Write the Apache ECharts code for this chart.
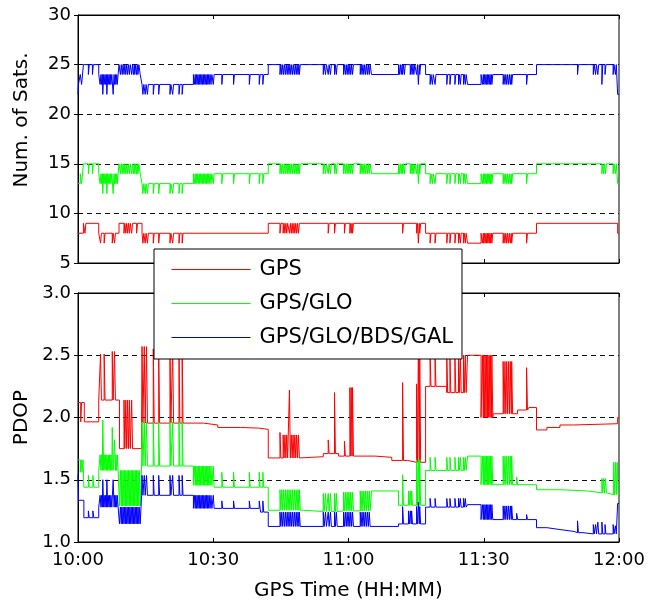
<!DOCTYPE html>
<html>
<head>
<meta charset="utf-8">
<script src="https://cdn.jsdelivr.net/npm/echarts@6/dist/echarts.min.js"></script>
<style>
  html, body { margin: 0; padding: 0; background: #fff; }
  #chart { width: 649px; height: 602px; }
</style>
</head>
<body>
<div id="chart"></div>
<script>
// Time axis: minutes after 10:00 GPS time
const timeTicks = ['10:00', '10:30', '11:00', '11:30', '12:00'];
const systems = ['GPS', 'GPS/GLO', 'GPS/GLO/BDS/GAL'];

// ---- Number of satellites ----
// step levels: [minute, count]
const gpsSatLevels = [
  [0, 8], [1.2, 9], [4.6, 8], [9.1, 9], [14.2, 8], [42.2, 9], [77.1, 8], [86.4, 7], [89.4, 8], [101.7, 9], [119.7, 8]
];
// short-lived changes: [minute, count]
const gpsSatBlips = [
  [1.55, 8],
  [5.0, 7], [5.8, 7], [7.6, 7], [8.1, 7],
  [10.2, 8], [10.6, 8], [11.0, 8], [11.4, 8], [11.9, 8], [13.0, 8],
  [14.4, 7], [14.9, 7], [15.4, 7], [16.7, 7], [17.9, 7], [20.4, 7], [21.0, 7], [22.4, 7], [23.1, 7],
  [44.8, 8], [45.5, 8], [45.9, 8], [46.3, 8], [46.9, 8], [47.3, 8], [47.7, 8], [48.1, 8], [48.5, 8], [48.9, 8],
  [55.5, 8], [56.9, 8], [59.1, 8], [60.3, 8], [60.6, 8], [60.9, 8],
  [72.0, 8], [75.1, 8], [75.5, 7], [75.8, 8],
  [78.1, 7], [79.2, 7], [81.8, 7], [82.5, 7], [83.6, 7], [84.4, 7], [84.8, 7], [85.5, 7], [85.9, 7],
  [89.7, 7], [90.0, 7], [90.3, 7], [90.6, 7], [90.9, 7], [91.2, 7], [91.5, 7], [91.8, 7],
  [94.3, 7], [94.7, 7], [95.1, 7], [95.5, 7], [95.9, 7], [96.2, 7], [99.5, 7]
];

const gloSatLevels = [
  [0, 13], [0.5, 14], [0.8, 13], [1.2, 15], [4.6, 14], [9.1, 15], [13.8, 14], [14.2, 13], [25.6, 14],
  [42.2, 15], [65.1, 14], [71.1, 15], [77.1, 14], [86.4, 13], [89.4, 14], [101.7, 15], [119.7, 13]
];
const gloSatBlips = [
  [2.3, 14], [3.2, 14],
  [4.9, 13], [5.2, 13], [5.5, 12], [5.8, 13], [6.1, 13], [6.4, 12], [6.7, 13], [7.0, 13], [7.3, 13], [7.8, 12], [8.1, 13], [8.4, 13], [8.7, 13],
  [9.4, 14], [9.8, 14], [10.2, 14], [10.6, 14], [11.0, 14], [11.4, 14], [11.9, 14], [12.3, 14], [12.6, 14], [13.0, 14], [13.3, 14],
  [14.4, 12], [14.9, 12], [15.4, 12], [16.7, 12], [17.9, 12], [20.4, 12], [21.0, 12], [22.4, 12], [23.1, 12],
  [25.8, 13], [26.1, 13], [26.4, 13], [26.7, 13], [27.0, 13], [27.3, 13], [27.6, 13], [27.9, 13], [28.2, 13], [28.5, 13], [28.8, 13], [29.1, 13], [29.5, 13], [30.0, 13],
  [31.9, 13], [34.5, 13], [38.0, 13], [40.2, 13], [41.0, 13],
  [44.8, 14], [45.2, 14], [45.6, 14], [46.0, 14], [46.4, 14], [46.8, 14], [47.2, 14], [47.6, 14], [48.0, 14], [48.4, 14], [48.8, 14], [49.1, 14],
  [54.4, 14], [54.9, 14], [55.5, 14], [56.0, 14], [56.9, 14], [57.3, 14],
  [58.9, 14], [59.3, 14], [59.7, 14], [60.1, 14], [60.5, 14], [60.9, 14],
  [62.6, 14], [63.0, 14], [63.4, 14], [63.8, 14], [64.2, 14], [64.6, 14],
  [71.3, 14], [71.7, 14], [72.0, 14], [72.4, 14], [73.7, 14], [74.1, 14], [74.5, 14], [75.1, 14], [75.5, 13], [75.8, 14],
  [78.1, 13], [78.6, 13], [79.2, 13], [81.8, 13], [82.5, 13], [83.6, 13], [84.4, 13], [84.8, 13], [85.5, 13], [85.9, 13],
  [89.7, 13], [90.0, 13], [90.3, 13], [90.6, 13], [90.9, 13], [91.2, 13], [91.5, 13], [91.8, 13],
  [94.3, 13], [94.7, 13], [95.1, 13], [95.5, 13], [95.9, 13], [96.2, 13], [99.5, 13],
  [116.2, 14], [116.6, 14], [117.0, 14], [118.7, 14], [119.2, 14]
];

const allSatLevels = [
  [0, 22], [0.1, 23], [0.5, 24], [0.8, 23], [1.2, 25], [4.6, 24], [9.1, 25], [13.8, 24], [14.2, 23], [25.6, 24],
  [42.2, 25], [65.1, 24], [71.1, 25], [77.1, 24], [86.4, 23], [89.4, 24], [101.7, 25], [119.7, 22]
];
const allSatBlips = [
  [2.3, 24], [3.2, 24],
  [4.9, 23], [5.2, 23], [5.5, 22], [5.8, 23], [6.1, 23], [6.4, 22], [6.7, 23], [7.0, 23], [7.3, 23], [7.8, 22], [8.1, 23], [8.4, 23], [8.7, 23],
  [9.4, 24], [9.8, 24], [10.2, 24], [10.6, 24], [11.0, 24], [11.4, 24], [11.9, 24], [12.3, 24], [12.6, 24], [13.0, 24], [13.3, 24],
  [14.4, 22], [14.9, 22], [15.4, 22], [16.7, 22], [17.9, 22], [20.4, 22], [21.0, 22], [22.4, 22], [23.1, 22],
  [25.8, 23], [26.1, 23], [26.4, 23], [26.7, 23], [27.0, 23], [27.3, 23], [27.6, 23], [27.9, 23], [28.2, 23], [28.5, 23], [28.8, 23], [29.1, 23], [29.5, 23], [30.0, 23],
  [31.9, 23], [34.5, 23], [38.0, 23], [40.2, 23], [41.0, 23],
  [44.8, 24], [45.2, 24], [45.6, 24], [46.0, 24], [46.4, 24], [46.8, 24], [47.2, 24], [47.6, 24], [48.0, 24], [48.4, 24], [48.8, 24], [49.1, 24],
  [54.4, 24], [54.9, 24], [55.5, 24], [56.0, 24], [56.9, 24], [57.3, 24],
  [58.9, 24], [59.3, 24], [59.7, 24], [60.1, 24], [60.5, 24], [60.9, 24],
  [62.6, 24], [63.0, 24], [63.4, 24], [63.8, 24], [64.2, 24], [64.6, 24],
  [71.3, 24], [71.7, 24], [72.0, 24], [72.4, 24], [73.7, 24], [74.1, 24], [74.5, 24], [75.1, 24], [75.5, 23], [75.8, 24],
  [78.1, 23], [78.6, 23], [79.2, 23], [81.8, 23], [82.5, 23], [83.6, 23], [84.4, 23], [84.8, 23], [85.5, 23], [85.9, 23],
  [89.7, 23], [90.0, 23], [90.3, 23], [90.6, 23], [90.9, 23], [91.2, 23], [91.5, 23], [91.8, 23],
  [94.3, 23], [94.7, 23], [95.1, 23], [95.5, 23], [95.9, 23], [96.2, 23], [99.5, 23],
  [110.8, 24], [114.3, 24], [114.8, 24], [115.3, 24], [116.2, 23], [116.9, 24], [118.7, 24], [119.2, 24]
];

// ---- PDOP ----
const gpsPdopLevels = [
  [0, 2.12], [1.4, 1.965], [4.6, 2.14], [9.2, 1.75], [14.1, 1.955], [27.8, 1.94], [31.0, 1.92], [36.0, 1.915], [40.0, 1.905],
  [42.2, 1.675], [49.5, 1.685], [54.4, 1.71], [57.8, 1.69], [65.9, 1.68], [69.6, 1.655], [73.1, 1.64],
  [77.1, 2.25], [81.8, 2.2], [86.4, 2.5], [89.4, 2.0], [92.1, 2.03], [97.5, 2.06], [100.0, 2.08],
  [101.7, 1.9], [104.0, 1.92], [106.9, 1.94], [109.9, 1.95], [119.7, 2.0]
];
const gpsPdopBlips = [
  [0.6, 1.965],
  [5.0, 2.51], [5.8, 2.51], [7.6, 2.53], [8.1, 2.53],
  [10.2, 2.14], [10.6, 2.14], [11.0, 2.14], [11.4, 2.14], [11.9, 2.14],
  [14.2, 2.57], [14.7, 2.57], [15.2, 2.57], [16.7, 2.55], [17.9, 2.55], [20.4, 2.55], [21.0, 2.55], [22.4, 2.55], [23.1, 2.55],
  [44.8, 1.88], [45.5, 1.86], [45.9, 1.86], [46.3, 1.86], [46.9, 2.22], [47.3, 1.86], [47.7, 1.86], [48.1, 1.86], [48.5, 1.86], [48.9, 1.86],
  [55.5, 1.82], [56.9, 2.2], [59.1, 1.81], [60.3, 2.24], [60.6, 2.24], [60.9, 2.24],
  [72.0, 2.28], [75.1, 2.27], [75.5, 2.6], [75.8, 2.6],
  [78.1, 2.5], [79.2, 2.5], [81.8, 2.5], [82.5, 2.5], [83.6, 2.5], [84.4, 2.5], [84.8, 2.5], [85.5, 2.5], [85.9, 2.5],
  [89.7, 2.5], [90.0, 2.5], [90.3, 2.5], [90.6, 2.5], [90.9, 2.5], [91.2, 2.5], [91.5, 2.5], [91.8, 2.5],
  [94.3, 2.45], [94.7, 2.45], [95.1, 2.45], [95.5, 2.45], [95.9, 2.45], [96.2, 2.45], [99.5, 2.4]
];

const gloPdopLevels = [
  [0, 1.66], [1.3, 1.44], [4.6, 1.575], [9.2, 1.29], [14.1, 1.61], [25.6, 1.455], [30.0, 1.44],
  [42.2, 1.255], [50.0, 1.245], [58.0, 1.25], [65.1, 1.41], [71.1, 1.295], [77.1, 1.575], [86.4, 1.69], [89.4, 1.46],
  [101.7, 1.42], [106.9, 1.41], [113.0, 1.395], [117.5, 1.38]
];
const gloPdopBlips = [
  [0.5, 1.56], [0.9, 1.56],
  [2.3, 1.535], [3.3, 1.535],
  [4.9, 1.70], [5.2, 1.70], [5.5, 1.98], [5.8, 1.70], [6.1, 1.70], [6.4, 1.70], [6.7, 1.70], [7.0, 1.70], [7.3, 1.70], [7.6, 1.92], [8.1, 1.82], [8.4, 1.70], [8.7, 1.70],
  [9.4, 1.575], [9.7, 1.575], [10.0, 1.575], [10.3, 1.575], [10.6, 1.575], [10.9, 1.575], [11.2, 1.575], [11.5, 1.575], [11.8, 1.575], [12.1, 1.575], [12.4, 1.575], [12.7, 1.575], [13.0, 1.575], [13.3, 1.575], [13.6, 1.575],
  [14.2, 1.965], [14.7, 1.965], [15.2, 1.965], [16.7, 1.965], [17.9, 1.965], [20.4, 1.965], [21.0, 1.965], [22.4, 1.965], [23.1, 1.965],
  [25.8, 1.61], [26.1, 1.61], [26.4, 1.61], [26.7, 1.61], [27.0, 1.61], [27.3, 1.61], [27.6, 1.61], [27.9, 1.61], [28.2, 1.61], [28.5, 1.61], [28.8, 1.61], [29.1, 1.61], [29.5, 1.61], [30.0, 1.61],
  [31.9, 1.56], [34.5, 1.56], [38.0, 1.56], [40.2, 1.56], [41.0, 1.56],
  [44.8, 1.42], [45.2, 1.42], [45.6, 1.42], [46.0, 1.42], [46.4, 1.42], [46.8, 1.42], [47.2, 1.42], [47.6, 1.42], [48.0, 1.42], [48.4, 1.42], [48.8, 1.42], [49.1, 1.42],
  [54.4, 1.39], [54.9, 1.39], [55.5, 1.39], [56.0, 1.39], [56.9, 1.39], [57.3, 1.39],
  [58.9, 1.40], [59.3, 1.40], [59.7, 1.40], [60.1, 1.40], [60.5, 1.40], [60.9, 1.40],
  [62.6, 1.41], [63.0, 1.41], [63.4, 1.41], [63.8, 1.41], [64.2, 1.41], [64.6, 1.41],
  [72.0, 1.54], [73.3, 1.41], [73.7, 1.41], [74.0, 1.41], [75.1, 1.66], [75.5, 1.66], [75.8, 1.66],
  [78.1, 1.68], [79.2, 1.68], [81.8, 1.68], [82.5, 1.68], [83.6, 1.68], [84.4, 1.68], [84.8, 1.68], [85.5, 1.68], [85.9, 1.68],
  [89.7, 1.69], [90.0, 1.69], [90.3, 1.69], [90.6, 1.69], [90.9, 1.69], [91.2, 1.69], [91.5, 1.69], [91.8, 1.69],
  [94.3, 1.69], [94.7, 1.69], [95.1, 1.69], [95.5, 1.69], [95.9, 1.69], [96.2, 1.69], [97.3, 1.52],
  [116.2, 1.51], [116.6, 1.51], [117.0, 1.51], [118.8, 1.64], [119.2, 1.64], [119.6, 1.64]
];

const allPdopLevels = [
  [0, 1.54], [0.1, 1.335], [1.3, 1.195], [4.6, 1.28], [9.2, 1.146], [14.1, 1.375], [25.6, 1.27], [40.5, 1.24],
  [42.2, 1.125], [71.1, 1.145], [77.1, 1.28], [86.4, 1.30], [89.4, 1.18],
  [101.7, 1.115], [104.0, 1.10], [106.9, 1.085], [110.0, 1.075], [112.0, 1.065], [119.7, 1.31]
];
const allPdopBlips = [
  [2.3, 1.25], [3.3, 1.25],
  [4.9, 1.375], [5.2, 1.375], [5.5, 1.50], [5.8, 1.375], [6.1, 1.375], [6.4, 1.50], [6.7, 1.375], [7.0, 1.375], [7.3, 1.375], [7.8, 1.50], [8.1, 1.375], [8.4, 1.375], [8.7, 1.375],
  [9.4, 1.28], [9.7, 1.28], [10.0, 1.28], [10.3, 1.28], [10.6, 1.28], [10.9, 1.28], [11.2, 1.28], [11.5, 1.28], [11.8, 1.28], [12.1, 1.28], [12.4, 1.28], [12.7, 1.28], [13.0, 1.28], [13.3, 1.28], [13.6, 1.28],
  [14.2, 1.535], [14.7, 1.535], [15.2, 1.535], [16.7, 1.535], [17.9, 1.535], [20.4, 1.535], [21.0, 1.535], [22.4, 1.535], [23.1, 1.535],
  [25.8, 1.375], [26.1, 1.375], [26.4, 1.375], [26.7, 1.375], [27.0, 1.375], [27.3, 1.375], [27.6, 1.375], [27.9, 1.375], [28.2, 1.375], [28.5, 1.375], [28.8, 1.375], [29.1, 1.375], [29.5, 1.375], [30.0, 1.375],
  [31.9, 1.33], [34.5, 1.33], [38.0, 1.33], [40.2, 1.33], [41.0, 1.33],
  [44.8, 1.24], [45.2, 1.24], [45.6, 1.24], [46.0, 1.24], [46.4, 1.24], [46.8, 1.24], [47.2, 1.24], [47.6, 1.24], [48.0, 1.24], [48.4, 1.24], [48.8, 1.24], [49.1, 1.24],
  [54.4, 1.24], [54.9, 1.24], [55.5, 1.24], [56.0, 1.24], [56.9, 1.24], [57.3, 1.24],
  [58.9, 1.24], [59.3, 1.24], [59.7, 1.24], [60.1, 1.24], [60.5, 1.24], [60.9, 1.24],
  [62.6, 1.24], [63.0, 1.24], [63.4, 1.24], [63.8, 1.24], [64.2, 1.24], [64.6, 1.24],
  [72.0, 1.285], [73.3, 1.25], [73.7, 1.25], [74.0, 1.25], [75.1, 1.285], [75.5, 1.32], [75.8, 1.285],
  [78.1, 1.35], [79.2, 1.35], [81.8, 1.35], [82.5, 1.35], [83.6, 1.35], [84.4, 1.35], [84.8, 1.35], [85.5, 1.35], [85.9, 1.35],
  [89.7, 1.30], [90.0, 1.30], [90.3, 1.30], [90.6, 1.30], [90.9, 1.30], [91.2, 1.30], [91.5, 1.30], [91.8, 1.30],
  [94.3, 1.29], [94.7, 1.29], [95.1, 1.29], [95.5, 1.29], [95.9, 1.29], [96.2, 1.29], [97.3, 1.23], [99.5, 1.22],
  [110.8, 1.17], [114.3, 1.14], [114.8, 1.14], [115.3, 1.16], [116.2, 1.16], [116.9, 1.14], [118.7, 1.14], [119.2, 1.13]
];

// duration of one short-lived change, in minutes
const BLIP_MIN = 0.2;
const END_MIN = 120;

// merge step levels and short-lived changes into one time-ordered trace
function trace(levels, blips) {
  const levelAt = t => {
    let v = levels[0][1];
    for (const [lt, lv] of levels) { if (lt <= t) v = lv; else break; }
    return v;
  };
  const pts = levels.map(([t, v]) => [t, v, 0]);
  blips.forEach(([t, v]) => {
    pts.push([t, v, 1]);
    pts.push([t + BLIP_MIN, levelAt(t + BLIP_MIN), 2]);
  });
  pts.sort((a, b) => a[0] - b[0] || a[2] - b[2]);
  pts.push([END_MIN, levelAt(END_MIN), 3]);
  return pts.map(p => [p[0], p[1]]);
}

const colors = ['#ff0000', '#00ff00', '#0000ff'];
const FONT = 'DejaVu Sans';

const satTraces = [trace(gpsSatLevels, gpsSatBlips), trace(gloSatLevels, gloSatBlips), trace(allSatLevels, allSatBlips)];
const pdopTraces = [trace(gpsPdopLevels, gpsPdopBlips), trace(gloPdopLevels, gloPdopBlips), trace(allPdopLevels, allPdopBlips)];

const tickLabel = { fontFamily: FONT, fontSize: 18, color: '#000' };
const frameLine = { show: true, lineStyle: { color: '#000', width: 1 } };
const frameTick = { show: true, inside: true, length: 4, lineStyle: { color: '#000', width: 1 } };
const dashed = { show: true, lineStyle: { color: '#111', width: 1, type: [5, 4] } };

function xAx(grid, pos, labels) {
  return {
    gridIndex: grid, type: 'value', min: 0, max: END_MIN, interval: 30, position: pos,
    axisLine: frameLine, axisTick: frameTick, splitLine: { show: false },
    axisLabel: labels ? Object.assign({ margin: 9, formatter: v => timeTicks[Math.round(v / 30)] }, tickLabel) : { show: false }
  };
}
function yAx(grid, pos, min, max, step, labels, fmt) {
  return {
    gridIndex: grid, type: 'value', min, max, interval: step, position: pos,
    axisLine: frameLine, axisTick: frameTick,
    splitLine: labels ? dashed : { show: false },
    axisLabel: labels ? Object.assign({ margin: 7, formatter: fmt }, tickLabel) : { show: false }
  };
}

const xAxes = [xAx(0, 'bottom', false), xAx(0, 'top', false), xAx(1, 'bottom', true), xAx(1, 'top', false)];
xAxes[2].name = 'GPS Time (HH:MM)';
xAxes[2].nameLocation = 'middle';
xAxes[2].nameGap = 39;
xAxes[2].nameTextStyle = { fontFamily: FONT, fontSize: 20, color: '#000' };

const yAxes = [
  yAx(0, 'left', 5, 30, 5, true, v => String(v)),
  yAx(0, 'right', 5, 30, 5, false),
  yAx(1, 'left', 1, 3, 0.5, true, v => v.toFixed(1)),
  yAx(1, 'right', 1, 3, 0.5, false)
];
yAxes[0].name = 'Num. of Sats.';
yAxes[0].nameLocation = 'middle';
yAxes[0].nameGap = 46;
yAxes[0].nameTextStyle = { fontFamily: FONT, fontSize: 20, color: '#000', padding: [0, 0, 0, 38] };
yAxes[2].name = 'PDOP';
yAxes[2].nameLocation = 'middle';
yAxes[2].nameGap = 46;
yAxes[2].nameTextStyle = { fontFamily: FONT, fontSize: 20, color: '#000' };

const series = [];
systems.forEach((name, i) => {
  series.push({
    name, type: 'line', xAxisIndex: 0, yAxisIndex: 0, data: satTraces[i], step: 'end',
    symbol: 'none', color: colors[i], lineStyle: { width: 1, color: colors[i] }, z: 2 + i
  });
});
systems.forEach((name, i) => {
  series.push({
    name, type: 'line', xAxisIndex: 2, yAxisIndex: 2, data: pdopTraces[i], step: 'end',
    symbol: 'none', color: colors[i], lineStyle: { width: 1, color: colors[i] }, z: 2 + i
  });
});

const chart = echarts.init(document.getElementById('chart'), null, { renderer: 'canvas' });
chart.setOption({
  animation: false,
  backgroundColor: '#fff',
  grid: [
    { left: 78, right: 30, top: 15, height: 248, show: true, borderColor: '#000', borderWidth: 1, containLabel: false },
    { left: 78, right: 30, top: 293, height: 249, show: true, borderColor: '#000', borderWidth: 1, containLabel: false }
  ],
  legend: {
    data: systems,
    orient: 'vertical',
    left: 154, top: 249,
    backgroundColor: '#fff',
    borderColor: '#000', borderWidth: 1, borderRadius: 0,
    padding: [10, 9, 11, 17],
    itemWidth: 79, itemHeight: 14, itemGap: 13,
    itemStyle: { opacity: 0 },
    lineStyle: { width: 1, opacity: 1 },
    textStyle: { fontFamily: FONT, fontSize: 21, color: '#000', padding: [0, 0, 0, 4] },
    selectedMode: false,
    z: 10
  },
  xAxis: xAxes,
  yAxis: yAxes,
  series
});
</script>
</body>
</html>
